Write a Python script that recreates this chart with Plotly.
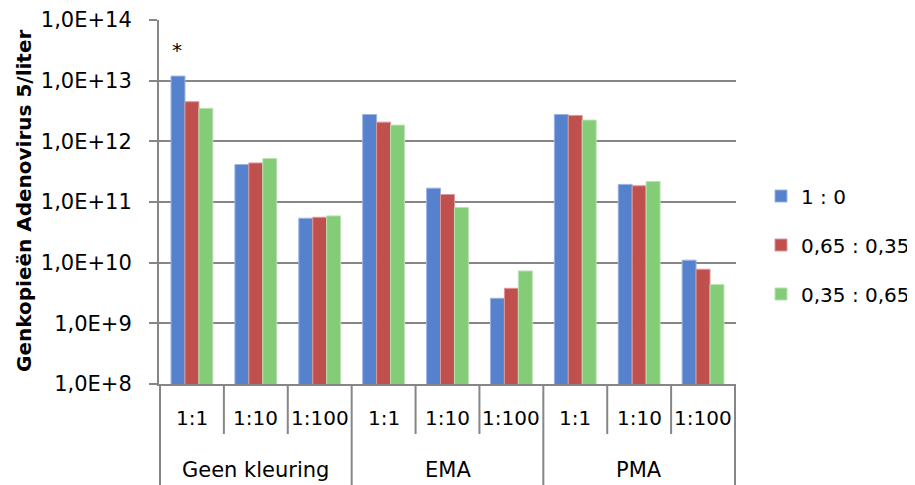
import math
import plotly.graph_objects as go

groups = ["Geen kleuring", "EMA", "PMA"]
dilutions = ["1:1", "1:10", "1:100"]
series_names = ["1 : 0", "0,65 : 0,35", "0,35 : 0,65"]
s_1_0 = [1.19e13, 4.15e11, 5.4e10, 2.77e12, 1.69e11, 2.59e9, 2.77e12, 1.95e11, 1.1e10]
s_065_035 = [4.5e12, 4.4e11, 5.6e10, 2.07e12, 1.33e11, 3.78e9, 2.67e12, 1.85e11, 7.8e9]
s_035_065 = [3.5e12, 5.2e11, 5.9e10, 1.85e12, 8.1e10, 7.3e9, 2.24e12, 2.18e11, 4.35e9]
tick_vals = [1e8, 1e9, 1e10, 1e11, 1e12, 1e13, 1e14]
tick_text = ["1,0E+8", "1,0E+9", "1,0E+10", "1,0E+11", "1,0E+12", "1,0E+13", "1,0E+14"]
y_title = "Genkopieën Adenovirus 5/liter"
star_text = "*"

colors = ["#5681CC", "#C0504D", "#84CC78"]
edge_colors = ["#9AB4E2", "#DA9896", "#B9E2B0"]
FONT = "DejaVu Sans"
GRAY = "#868686"

x = [[g for g in groups for d in dilutions], [d for g in groups for d in dilutions]]

fig = go.Figure()
for i, (name, vals) in enumerate(zip(series_names, [s_1_0, s_065_035, s_035_065])):
    fig.add_trace(go.Bar(
        x=x, y=vals, name=name, legendgroup=name,
        marker=dict(color=colors[i], line=dict(color=edge_colors[i], width=1)),
    ))

# page has an 8px body margin; figure sized so it fills the 915x485 window
OFF = 8
W, H = 915 - OFF, 485 - OFF
L, T = 159 - OFF, 20 - OFF
R = W - (736 - OFF)
B = H - (384 - OFF)
ph = H - T - B
pw = W - L - R

shapes = []
n = len(x[0])
for k in range(n + 1):
    pos = k - 0.5
    is_group = (k % len(dilutions) == 0)
    shapes.append(dict(
        type="line", xref="x", yref="paper", x0=pos, x1=pos, y0=0,
        y1=(-B / ph) if is_group else (-50 / ph),
        line=dict(color=GRAY, width=2), layer="below"))

annotations = []
for i, d in enumerate(x[1]):
    annotations.append(dict(x=i, xref="x", y=-34 / ph, yref="paper", text=d,
                            showarrow=False, yanchor="middle", xanchor="center",
                            font=dict(family=FONT, size=20, color="black")))
for gi, g in enumerate(groups):
    annotations.append(dict(x=gi * len(dilutions) + (len(dilutions) - 1) / 2, xref="x",
                            y=-86 / ph, yref="paper", text=g, showarrow=False,
                            yanchor="middle", xanchor="center",
                            font=dict(family=FONT, size=21, color="black")))
annotations.append(dict(x=(24 - 159) / pw, xref="paper", y=(384 - 201) / ph, yref="paper",
                        text="<b>" + y_title + "</b>", textangle=-90, showarrow=False,
                        xanchor="center", yanchor="middle",
                        font=dict(family=FONT, size=20, color="black")))
annotations.append(dict(x=0, xref="x", y=math.log10(s_1_0[0]), yref="y", text=star_text,
                        showarrow=False, xshift=-15, yshift=12, yanchor="bottom",
                        font=dict(family=FONT, size=20, color="black")))

fig.update_layout(
    width=W, height=H,
    margin=dict(l=L, r=R, t=T, b=B, autoexpand=False),
    paper_bgcolor="white", plot_bgcolor="white",
    barmode="group", bargap=0.345, bargroupgap=0,
    font=dict(family=FONT, size=20, color="black"),
    shapes=shapes, annotations=annotations,
    legend=dict(x=(761 - 159) / pw, xanchor="left", y=(384 - 245) / ph, yanchor="middle",
                font=dict(family=FONT, size=20, color="black"),
                tracegroupgap=20, bgcolor="rgba(0,0,0,0)"),
    showlegend=True,
)
fig.update_xaxes(type="multicategory", showticklabels=False, ticks="",
                 showline=True, linecolor=GRAY, linewidth=2,
                 showgrid=False, showdividers=False, zeroline=False)
fig.update_yaxes(type="log", range=[8, 14], tickvals=tick_vals, ticktext=tick_text,
                 showgrid=True, gridcolor=GRAY, gridwidth=2,
                 showline=True, linecolor=GRAY, linewidth=2,
                 ticks="outside", ticklen=8, tickcolor=GRAY, tickwidth=2,
                 ticklabelstandoff=13,
                 tickfont=dict(family=FONT, size=21, color="black"), zeroline=False)

fig.write_html("out.html")
